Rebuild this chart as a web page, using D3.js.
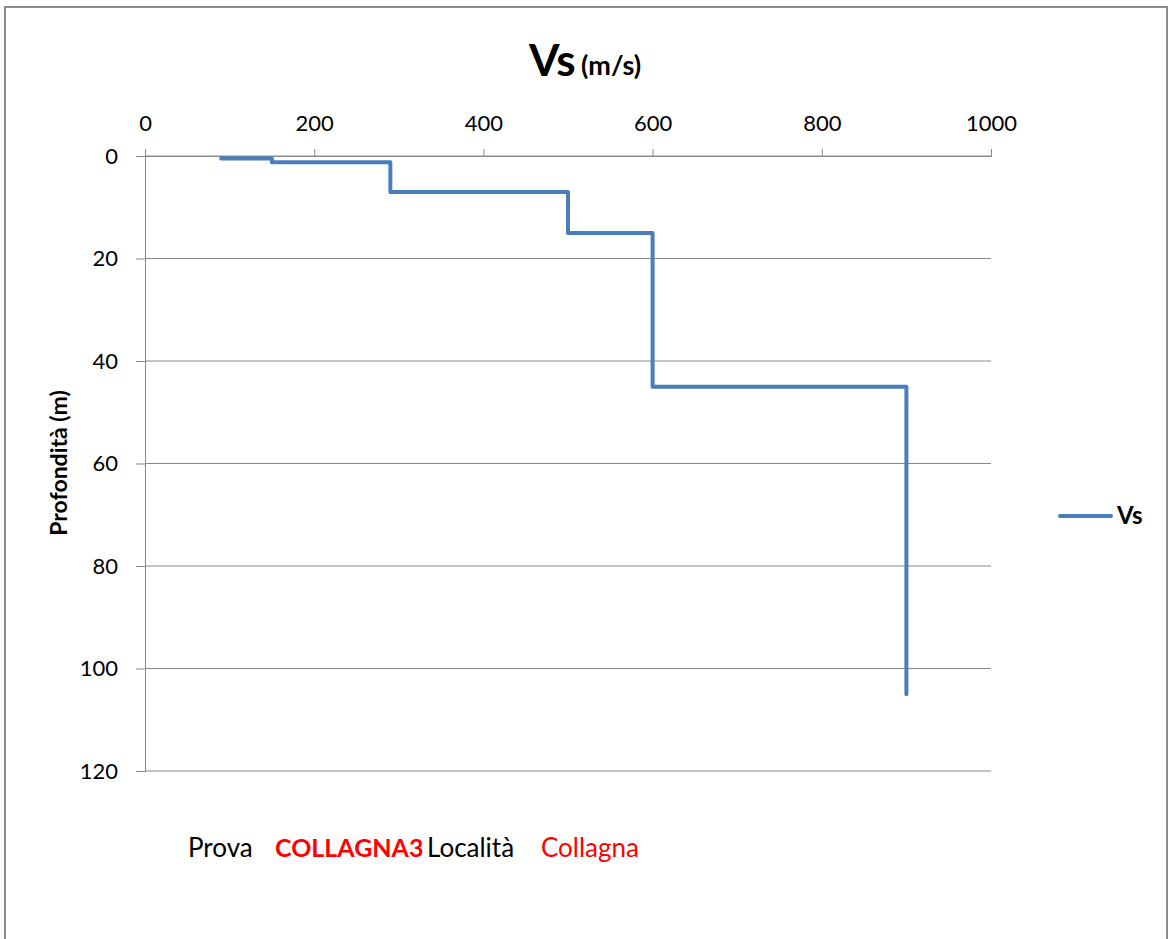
<!DOCTYPE html>
<html><head><meta charset="utf-8">
<script src="https://cdn.jsdelivr.net/npm/d3@7"></script>
<style>body{margin:0;background:#fff}svg{display:block}text{font-family:Lato,"Open Sans",sans-serif}</style>
</head><body>
<svg id="c" width="1171" height="939"></svg>
<script>
const vsValues = [90, 150, 150, 290, 290, 500, 500, 600, 600, 900, 900];
const depthValues = [0.5, 0.5, 1.2, 1.2, 7, 7, 15, 15, 45, 45, 105];
const xTicks = [0, 200, 400, 600, 800, 1000];
const yTicks = [0, 20, 40, 60, 80, 100, 120];
const seriesName = "Vs";

const svg = d3.select("#c");
svg.append("rect").attr("x",5).attr("y",7).attr("width",1162).attr("height",940)
  .attr("fill","#fff").attr("stroke","#8c8c8c").attr("stroke-width",2);

const x = d3.scaleLinear().domain([0,1000]).range([145,991]);
const y = d3.scaleLinear().domain([0,120]).range([156,771]);

// gridlines
svg.append("g").selectAll("line").data(yTicks).join("line")
  .attr("x1",145).attr("x2",991).attr("y1",d=>y(d)).attr("y2",d=>y(d))
  .attr("stroke","#8a8a8a").attr("stroke-width",1);

const xa = svg.append("g").attr("transform","translate(0,156)")
  .call(d3.axisTop(x).tickValues(xTicks).tickFormat(d3.format("d")).tickSize(7).tickPadding(18));
xa.select(".domain").attr("stroke","#8a8a8a");
xa.selectAll(".tick line").attr("stroke","#8a8a8a");
xa.selectAll("text").attr("font-size",22).attr("fill","#000");

const ya = svg.append("g").attr("transform","translate(145,0)")
  .call(d3.axisLeft(y).tickValues(yTicks).tickSize(9).tickPadding(18));
ya.select(".domain").attr("stroke","#8a8a8a");
ya.selectAll(".tick line").attr("stroke","#8a8a8a");
ya.selectAll("text").attr("font-size",22).attr("fill","#000");

const pts = vsValues.map((v,i)=>[v,depthValues[i]]);
svg.append("path").datum(pts)
  .attr("d", d3.line().x(d=>x(d[0])).y(d=>y(d[1])))
  .attr("fill","none").attr("stroke","#4a7ebb").attr("stroke-width",4)
  .attr("stroke-linejoin","round").attr("stroke-linecap","round");

// title
svg.append("text").attr("x",529).attr("y",76).attr("font-size",44).attr("font-weight","bold").text("Vs");
svg.append("text").attr("x",581).attr("y",75).attr("font-size",27).attr("font-weight","bold").text("(m/s)");

svg.append("text").attr("transform","translate(67,463) rotate(-90)")
  .attr("text-anchor","middle").attr("font-size",23).attr("font-weight","bold").text("Profondità (m)");

// legend
svg.append("line").attr("x1",1060).attr("x2",1111).attr("y1",516).attr("y2",516)
  .attr("stroke","#4a7ebb").attr("stroke-width",4).attr("stroke-linecap","round");
svg.append("text").attr("x",1117).attr("y",524).attr("font-size",24).attr("font-weight","bold").text(seriesName);

// footer
const f = [["Prova",188,"#000","normal",26],["COLLAGNA3",275,"#ff0000","bold",25],["Località",427,"#000","normal",26],["Collagna",541,"#ff0000","normal",26]];
svg.append("g").selectAll("text").data(f).join("text")
  .attr("x",d=>d[1]).attr("y",857).attr("font-size",d=>d[4]).attr("fill",d=>d[2]).attr("font-weight",d=>d[3]).text(d=>d[0]);
</script>
</body></html>
